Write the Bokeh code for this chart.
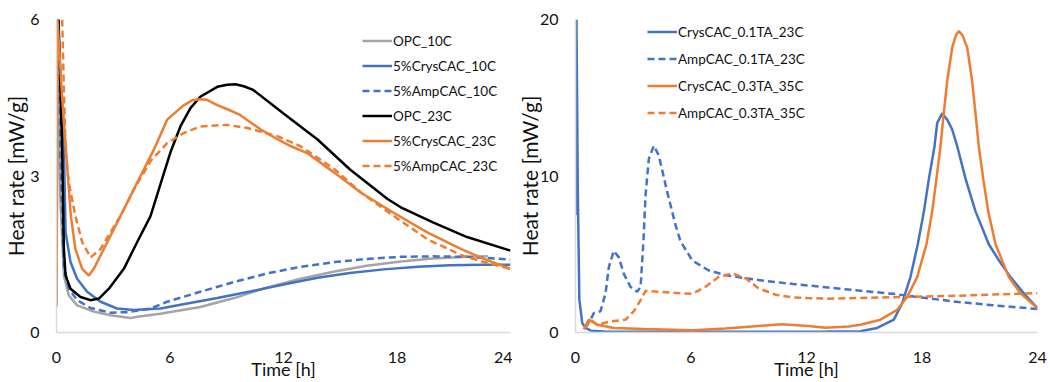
from bokeh.plotting import figure
from bokeh.layouts import row
from bokeh.models import Range1d, FixedTicker, Legend, LegendItem
from bokeh.embed import file_html
from bokeh.resources import INLINE

# ---------------- data: left panel (x in h, heat rate in mW/g) ----------------
opc10_x = [0, 0.08, 0.2, 0.39, 0.65, 1.09, 1.97, 2.85, 3.91, 4.26, 5.5, 7.6, 9.4, 11.1, 12.9, 14.7, 16.4, 18.2, 19.9, 21.7, 22.8]
opc10_y = [0.5, 6.0, 2.6, 1.09, 0.71, 0.52, 0.4, 0.33, 0.28, 0.3, 0.36, 0.49, 0.66, 0.86, 1.03, 1.17, 1.28, 1.36, 1.42, 1.45, 1.46]

crys10_x = [0.1, 0.25, 0.39, 0.48, 0.74, 1.09, 1.62, 2.33, 3.2, 4.08, 5.5, 6.7, 8.5, 10.3, 12.0, 13.8, 15.5, 17.3, 19.1, 20.8, 22.6, 24.0]
crys10_y = [6.0, 4.5, 3.5, 1.92, 1.35, 1.03, 0.78, 0.59, 0.46, 0.43, 0.46, 0.54, 0.66, 0.79, 0.92, 1.05, 1.14, 1.21, 1.26, 1.29, 1.3, 1.3]

amp10_x = [0.1, 0.2, 0.3, 0.39, 0.65, 1.09, 1.8, 2.85, 3.73, 4.97, 5.85, 7.6, 9.4, 11.1, 12.9, 14.7, 16.4, 18.2, 19.9, 21.7, 24.0]
amp10_y = [6.0, 3.5, 2.23, 1.29, 0.84, 0.62, 0.47, 0.38, 0.39, 0.46, 0.59, 0.78, 0.97, 1.13, 1.26, 1.35, 1.41, 1.45, 1.46, 1.45, 1.4]

opc23_x = [0.1, 0.2, 0.3, 0.39, 0.48, 0.74, 1.27, 1.8, 2.24, 2.77, 3.56, 4.26, 4.97, 5.5, 6.02, 6.55, 7.08, 7.6, 8.5, 9.02, 9.46, 9.9, 10.4, 12.0, 13.8, 15.5, 17.5, 18.2, 19.9, 21.7, 24.0]
opc23_y = [6.0, 4.8, 3.5, 1.6, 1.09, 0.84, 0.68, 0.62, 0.65, 0.84, 1.22, 1.73, 2.23, 2.85, 3.45, 3.95, 4.3, 4.52, 4.71, 4.75, 4.76, 4.72, 4.65, 4.2, 3.7, 3.13, 2.56, 2.4, 2.11, 1.83, 1.57]

crys23_x = [0, 0.05, 0.3, 0.6, 0.76, 1.0, 1.36, 1.71, 1.97, 2.5, 3.38, 4.26, 5.14, 5.85, 6.7, 7.17, 7.6, 7.96, 8.5, 9.1, 9.7, 10.8, 11.7, 12.4, 13.25, 14.7, 16.1, 17.8, 19.6, 21.4, 22.6, 24.0]
crys23_y = [0.5, 6.0, 4.5, 3.0, 2.23, 1.6, 1.22, 1.09, 1.22, 1.6, 2.23, 2.87, 3.5, 4.08, 4.35, 4.45, 4.47, 4.46, 4.36, 4.27, 4.17, 3.89, 3.7, 3.57, 3.44, 3.06, 2.68, 2.3, 1.92, 1.6, 1.41, 1.22]

amp23_x = [0.3, 0.4, 0.48, 0.65, 1.0, 1.36, 1.8, 2.33, 2.85, 3.38, 4.1, 5.0, 5.85, 6.7, 7.6, 9.0, 10.1, 11.7, 12.9, 14.7, 16.1, 17.8, 19.6, 21.4, 22.6, 24.0]
amp23_y = [6.0, 4.5, 3.5, 2.87, 2.23, 1.73, 1.44, 1.6, 1.92, 2.23, 2.75, 3.3, 3.63, 3.82, 3.95, 3.98, 3.92, 3.76, 3.57, 3.13, 2.68, 2.24, 1.79, 1.48, 1.35, 1.22]

# ---------------- data: right panel ----------------
c01_x = [0, 0.05, 0.12, 0.2, 0.35, 0.52, 0.8, 1.5, 6.0, 13.0, 14.8, 15.67, 16.54, 16.97, 17.4, 17.78, 18.1, 18.36, 18.65, 18.79, 19.05, 19.31, 19.57, 19.83, 20.26, 20.78, 21.47, 22.0, 22.6, 23.29, 24.0]
c01_y = [7.5, 20.0, 9.0, 2.1, 0.6, 0.3, 0.12, 0.06, 0.05, 0.06, 0.08, 0.29, 0.82, 1.87, 3.54, 5.64, 7.74, 9.83, 11.9, 13.4, 14.0, 13.6, 12.97, 11.9, 9.83, 7.74, 5.64, 4.6, 3.54, 2.5, 1.55]

a01_x = [0.52, 0.78, 0.95, 1.3, 1.56, 1.73, 1.99, 2.25, 2.51, 2.86, 3.2, 3.38, 3.52, 3.64, 3.81, 4.07, 4.33, 4.76, 5.19, 5.45, 6.07, 6.9, 7.8, 9.5, 11.3, 13.0, 14.7, 16.5, 18.2, 19.9, 21.7, 24.0]
a01_y = [0.3, 0.82, 1.24, 1.36, 2.5, 4.17, 5.22, 4.8, 3.75, 2.91, 2.6, 2.91, 5.64, 8.79, 11.1, 11.93, 11.3, 9.0, 6.9, 5.84, 4.6, 3.98, 3.66, 3.35, 3.1, 2.89, 2.68, 2.47, 2.2, 1.95, 1.74, 1.5]

c03_x = [0.43, 0.69, 1.13, 2.0, 3.55, 6.1, 7.8, 9.5, 10.7, 12.1, 13.0, 14.2, 14.8, 15.84, 16.71, 17.23, 17.75, 18.23, 18.53, 18.75, 18.96, 19.13, 19.31, 19.57, 19.75, 19.91, 20.1, 20.35, 20.6, 20.78, 20.95, 21.18, 21.44, 21.82, 22.51, 23.12, 24.0]
c03_y = [0.2, 0.82, 0.5, 0.29, 0.23, 0.15, 0.25, 0.42, 0.52, 0.42, 0.31, 0.38, 0.5, 0.82, 1.45, 2.28, 3.54, 5.64, 7.74, 9.83, 11.9, 14.0, 16.1, 18.2, 18.95, 19.26, 19.0, 18.2, 16.1, 14.0, 11.9, 9.83, 7.74, 5.64, 3.54, 2.5, 1.55]

a03_x = [0.52, 0.78, 1.13, 1.82, 2.6, 3.03, 3.38, 3.64, 4.42, 5.1, 6.07, 6.76, 7.45, 8.15, 8.84, 9.5, 10.4, 11.3, 13.0, 14.7, 16.5, 18.2, 19.9, 21.7, 24.0]
a03_y = [0.3, 0.82, 0.5, 0.71, 0.82, 1.36, 2.07, 2.66, 2.6, 2.54, 2.47, 2.93, 3.56, 3.77, 3.46, 2.83, 2.41, 2.24, 2.16, 2.2, 2.26, 2.3, 2.35, 2.43, 2.51]

left_names = ["OPC_10C", "5%CrysCAC_10C", "5%AmpCAC_10C", "OPC_23C", "5%CrysCAC_23C", "5%AmpCAC_23C"]
right_names = ["CrysCAC_0.1TA_23C", "AmpCAC_0.1TA_23C", "CrysCAC_0.3TA_35C", "AmpCAC_0.3TA_35C"]
x_ticks = [0, 6, 12, 18, 24]
left_y_ticks = [0, 3, 6]
right_y_ticks = [0, 10, 20]

BLUE = "#4472C4"
ORANGE = "#ED7D31"
GRAY = "#A5A5A5"
BLACK = "#000000"
FONT = "Lato"
DASH = "7 4"
LW = 2.5


def style(p, yticks, ylabel_standoff):
    p.xgrid.visible = False
    p.ygrid.visible = False
    p.outline_line_color = None
    p.xaxis.ticker = FixedTicker(ticks=x_ticks)
    p.yaxis.ticker = FixedTicker(ticks=yticks)
    for ax in (p.xaxis[0], p.yaxis[0]):
        ax.axis_line_color = "#d9d9d9"
        ax.axis_line_width = 1.5
        ax.major_tick_line_color = None
        ax.minor_tick_line_color = None
        ax.major_tick_out = 0
        ax.major_tick_in = 0
        ax.major_label_text_font = FONT
        ax.major_label_text_font_size = "16px"
        ax.major_label_text_color = "#111111"
        ax.axis_label_text_font = FONT
        ax.axis_label_text_font_style = "normal"
        ax.axis_label_text_color = "#111111"
    p.xaxis.axis_label = "Time [h]"
    p.xaxis.axis_label_text_font_size = "18px"
    p.xaxis.axis_label_text_baseline = "middle"
    p.yaxis.axis_label = "Heat rate [mW/g]"
    p.yaxis.axis_label_text_font_size = "21px"
    p.xaxis.major_label_standoff = 19
    p.xaxis.axis_label_standoff = -8
    p.yaxis.major_label_standoff = 17
    p.yaxis.axis_label_standoff = ylabel_standoff


# ---------------- left figure ----------------
p1 = figure(width=512, height=382, output_backend="svg", toolbar_location=None,
            x_range=Range1d(0, 24), y_range=Range1d(0, 6),
            min_border_left=56, min_border_right=2, min_border_top=19, min_border_bottom=48)
style(p1, left_y_ticks, -1)

r = []
r.append(p1.line(opc10_x, opc10_y, line_color=GRAY, line_width=LW))
r.append(p1.line(crys10_x, crys10_y, line_color=BLUE, line_width=LW))
r.append(p1.line(amp10_x, amp10_y, line_color=BLUE, line_width=LW, line_dash=DASH))
r.append(p1.line(opc23_x, opc23_y, line_color=BLACK, line_width=LW))
r.append(p1.line(crys23_x, crys23_y, line_color=ORANGE, line_width=LW))
r.append(p1.line(amp23_x, amp23_y, line_color=ORANGE, line_width=LW, line_dash=DASH))

leg1 = Legend(items=[LegendItem(label=n, renderers=[rr]) for n, rr in zip(left_names, r)],
              location=(306, 154), padding=0, margin=0, spacing=0,
              glyph_width=30, glyph_height=25, label_height=25, label_standoff=1,
              label_text_font=FONT, label_text_font_size="13.5px", label_text_color="#111111",
              border_line_color=None, background_fill_alpha=0)
p1.add_layout(leg1)

# ---------------- right figure ----------------
p2 = figure(width=538, height=382, output_backend="svg", toolbar_location=None,
            x_range=Range1d(0, 24), y_range=Range1d(0, 20),
            min_border_left=63, min_border_right=13, min_border_top=15, min_border_bottom=49)
style(p2, right_y_ticks, -5)

q = []
q.append(p2.line(c01_x, c01_y, line_color=BLUE, line_width=LW))
q.append(p2.line(a01_x, a01_y, line_color=BLUE, line_width=LW, line_dash=DASH))
q.append(p2.line(c03_x, c03_y, line_color=ORANGE, line_width=LW))
q.append(p2.line(a03_x, a03_y, line_color=ORANGE, line_width=LW, line_dash=DASH))

leg2 = Legend(items=[LegendItem(label=n, renderers=[rr]) for n, rr in zip(right_names, q)],
              location=(72, 206), padding=0, margin=0, spacing=0,
              glyph_width=30, glyph_height=27, label_height=27, label_standoff=1,
              label_text_font=FONT, label_text_font_size="13.5px", label_text_color="#111111",
              border_line_color=None, background_fill_alpha=0)
p2.add_layout(leg2)

layout = row(p1, p2)
open("out.html", "w").write(file_html(layout, INLINE))
